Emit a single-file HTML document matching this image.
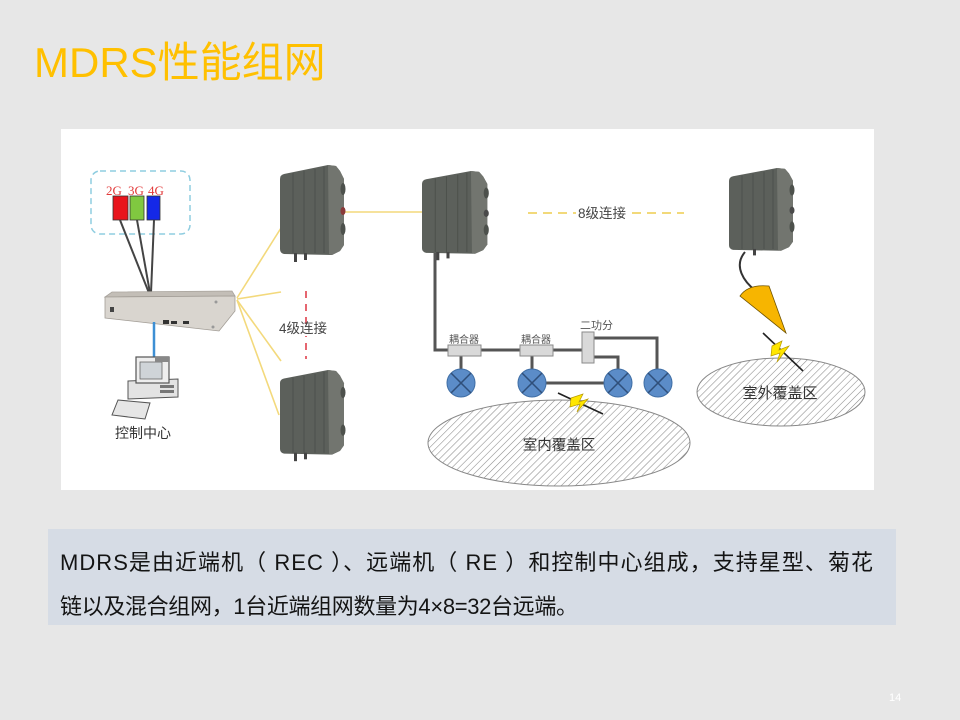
<!DOCTYPE html>
<html>
<head>
<meta charset="utf-8">
<style>
html,body{margin:0;padding:0;}
body{width:960px;height:720px;background:#e7e7e7;overflow:hidden;position:relative;}
svg{position:absolute;left:0;top:0;}
</style>
</head>
<body>
<svg width="960" height="720" viewBox="0 0 960 720" xmlns="http://www.w3.org/2000/svg">
<defs>
<pattern id="hatch" patternUnits="userSpaceOnUse" width="5" height="5" patternTransform="rotate(45)">
<rect x="0" y="0" width="5" height="5" fill="#ffffff"/>
<line x1="0" y1="0" x2="0" y2="5" stroke="#8a8a8a" stroke-width="1.1"/>
</pattern>
</defs>

<!-- Title -->
<text x="34" y="77" font-family="'Liberation Sans','Noto Sans CJK SC',sans-serif" font-size="42" fill="#ffc000">MDRS性能组网</text>

<!-- Diagram panel -->
<rect x="61" y="129" width="813" height="361" fill="#ffffff"/>

<!-- Dashed band box -->
<rect x="91" y="171" width="99" height="63" rx="9" fill="none" stroke="#8fcde0" stroke-width="1.5" stroke-dasharray="6,4"/>
<text x="106" y="195" font-family="'Liberation Serif',serif" font-size="13" fill="#e23a3a">2G</text>
<text x="128" y="195" font-family="'Liberation Serif',serif" font-size="13" fill="#e23a3a">3G</text>
<text x="148" y="195" font-family="'Liberation Serif',serif" font-size="13" fill="#e23a3a">4G</text>
<rect x="113" y="196" width="15" height="24" fill="#e8141c" stroke="#333" stroke-width="0.8"/>
<rect x="130" y="196" width="14" height="24" fill="#80c840" stroke="#333" stroke-width="0.8"/>
<rect x="147" y="196" width="13" height="24" fill="#1428e8" stroke="#333" stroke-width="0.8"/>
<g stroke="#444" stroke-width="2" fill="none">
<line x1="120" y1="220" x2="149" y2="293"/>
<line x1="137" y1="220" x2="150" y2="293"/>
<line x1="154" y1="220" x2="151" y2="293"/>
</g>

<!-- Yellow fan lines -->
<g stroke="#f3d97c" stroke-width="1.6" fill="none">
<line x1="237" y1="298" x2="281" y2="228"/>
<line x1="237" y1="299" x2="281" y2="292"/>
<line x1="237" y1="300" x2="281" y2="361"/>
<line x1="237" y1="300" x2="279" y2="415"/>
<line x1="343" y1="212" x2="423" y2="212"/>
</g>

<!-- Server (REC) -->
<polygon points="112,292 232,291 235,296 105,297" fill="#c3beb7" stroke="#a9a49d" stroke-width="0.8"/>
<polygon points="105,297 235,296 235,311 219,331 105,318" fill="#d9d5cf" stroke="#a29d96" stroke-width="0.8"/>
<rect x="110" y="307" width="4" height="5" fill="#444"/>
<rect x="163" y="320" width="6" height="4" fill="#333"/>
<rect x="171" y="321" width="6" height="3" fill="#333"/>
<rect x="183" y="321" width="6" height="3" fill="#333"/>
<circle cx="216" cy="302" r="1.5" fill="#999"/>
<circle cx="213" cy="327" r="1.5" fill="#999"/>
<line x1="154" y1="322" x2="154" y2="358" stroke="#3d8fd4" stroke-width="2.5"/>

<!-- Computer -->
<polygon points="128,381 178,379 178,397 128,399" fill="#e3e3e3" stroke="#555" stroke-width="1"/>
<rect x="136" y="357" width="33" height="26" fill="#eeeeee" stroke="#555" stroke-width="1.2"/>
<rect x="140" y="362" width="22" height="17" fill="#cfd4d8" stroke="#666" stroke-width="0.8"/>
<rect x="155" y="357" width="14" height="5" fill="#888"/>
<rect x="160" y="385" width="14" height="3" fill="#777"/>
<rect x="160" y="390" width="14" height="3" fill="#777"/>
<polygon points="118,400 150,403 145,419 112,415" fill="#e6e6e6" stroke="#555" stroke-width="1"/>
<text x="115" y="438" font-family="'Liberation Sans','Noto Sans CJK SC',sans-serif" font-size="14" fill="#333">控制中心</text>

<!-- 4级连接 -->
<line x1="306" y1="291" x2="306" y2="359" stroke="#e0404c" stroke-width="1.6" stroke-dasharray="7,6"/>
<rect x="279" y="320" width="52" height="16" fill="#ffffff"/>
<line x1="306" y1="320" x2="306" y2="324" stroke="#e0404c" stroke-width="1.6"/>
<text x="279" y="333" font-family="'Liberation Sans','Noto Sans CJK SC',sans-serif" font-size="13.5" fill="#444">4级连接</text>

<!-- RE devices -->
<g transform="translate(280,165)">
<path d="M0,14 Q0,10 4,9 L48,0 L56,1 L60,6 L64,14 L64,80 L60,86 L52,90 L4,89 Q0,88 0,84 Z" fill="#5c605b"/>
<path d="M48,0 L56,1 L60,6 L64,14 L64,80 L60,86 L52,90 L49,89 Z" fill="#72756f"/>
<g stroke="#4d514c" stroke-width="1"><line x1="13" y1="8" x2="13" y2="88"/><line x1="24" y1="6" x2="24" y2="88"/><line x1="35" y1="4" x2="35" y2="88"/><line x1="44" y1="2" x2="44" y2="88"/></g>
<ellipse cx="63" cy="24" rx="2.5" ry="6" fill="#4d514c"/><ellipse cx="63" cy="46" rx="2.5" ry="4" fill="#8a3a3a"/><ellipse cx="63" cy="64" rx="2.5" ry="6" fill="#4d514c"/>
<rect x="14" y="88" width="3" height="9" fill="#444"/><rect x="24" y="88" width="3" height="7" fill="#444"/>
</g>
<g transform="translate(280,370) scale(1,0.94)">
<path d="M0,14 Q0,10 4,9 L48,0 L56,1 L60,6 L64,14 L64,80 L60,86 L52,90 L4,89 Q0,88 0,84 Z" fill="#5c605b"/>
<path d="M48,0 L56,1 L60,6 L64,14 L64,80 L60,86 L52,90 L49,89 Z" fill="#72756f"/>
<g stroke="#4d514c" stroke-width="1"><line x1="13" y1="8" x2="13" y2="88"/><line x1="24" y1="6" x2="24" y2="88"/><line x1="35" y1="4" x2="35" y2="88"/><line x1="44" y1="2" x2="44" y2="88"/></g>
<ellipse cx="63" cy="24" rx="2.5" ry="6" fill="#4d514c"/><ellipse cx="63" cy="64" rx="2.5" ry="6" fill="#4d514c"/>
<rect x="14" y="88" width="3" height="9" fill="#444"/><rect x="24" y="88" width="3" height="7" fill="#444"/>
</g>
<g transform="translate(422,171) scale(1.02,0.92)">
<path d="M0,14 Q0,10 4,9 L48,0 L56,1 L60,6 L64,14 L64,80 L60,86 L52,90 L4,89 Q0,88 0,84 Z" fill="#5c605b"/>
<path d="M48,0 L56,1 L60,6 L64,14 L64,80 L60,86 L52,90 L49,89 Z" fill="#72756f"/>
<g stroke="#4d514c" stroke-width="1"><line x1="13" y1="8" x2="13" y2="88"/><line x1="24" y1="6" x2="24" y2="88"/><line x1="35" y1="4" x2="35" y2="88"/><line x1="44" y1="2" x2="44" y2="88"/></g>
<ellipse cx="63" cy="24" rx="2.5" ry="6" fill="#4d514c"/><ellipse cx="63" cy="46" rx="2.5" ry="4" fill="#4a4a4a"/><ellipse cx="63" cy="64" rx="2.5" ry="6" fill="#4d514c"/>
<rect x="14" y="88" width="3" height="9" fill="#444"/><rect x="24" y="88" width="3" height="7" fill="#444"/>
</g>
<g transform="translate(729,168) scale(1,0.92)">
<path d="M0,14 Q0,10 4,9 L48,0 L56,1 L60,6 L64,14 L64,80 L60,86 L52,90 L4,89 Q0,88 0,84 Z" fill="#5c605b"/>
<path d="M48,0 L56,1 L60,6 L64,14 L64,80 L60,86 L52,90 L49,89 Z" fill="#72756f"/>
<g stroke="#4d514c" stroke-width="1"><line x1="13" y1="8" x2="13" y2="88"/><line x1="24" y1="6" x2="24" y2="88"/><line x1="35" y1="4" x2="35" y2="88"/><line x1="44" y1="2" x2="44" y2="88"/></g>
<ellipse cx="63" cy="24" rx="2.5" ry="6" fill="#4d514c"/><ellipse cx="63" cy="46" rx="2.5" ry="4" fill="#4a4a4a"/><ellipse cx="63" cy="64" rx="2.5" ry="6" fill="#4d514c"/>
<rect x="24" y="88" width="3" height="7" fill="#444"/>
</g>

<!-- 8级连接 -->
<line x1="528" y1="213" x2="576" y2="213" stroke="#f0d468" stroke-width="1.8" stroke-dasharray="9,6"/>
<line x1="632" y1="213" x2="684" y2="213" stroke="#f0d468" stroke-width="1.8" stroke-dasharray="9,6"/>
<text x="578" y="218" font-family="'Liberation Sans','Noto Sans CJK SC',sans-serif" font-size="13.5" fill="#444">8级连接</text>

<!-- Indoor cabling -->
<g stroke="#555" stroke-width="3" fill="none">
<path d="M435,253 L435,350 L448,350"/>
<line x1="481" y1="350" x2="520" y2="350"/>
<line x1="553" y1="350" x2="582" y2="350"/>
<line x1="461" y1="356" x2="461" y2="370"/>
<line x1="532" y1="356" x2="532" y2="370"/>
<path d="M594,338 L657,338 L657,370"/>
<path d="M594,357 L618,357 L618,370"/>
<line x1="546" y1="383" x2="604" y2="383"/>
</g>
<rect x="448" y="345" width="33" height="11" fill="#d9d9d9" stroke="#8a8a8a" stroke-width="1"/>
<rect x="520" y="345" width="33" height="11" fill="#d9d9d9" stroke="#8a8a8a" stroke-width="1"/>
<rect x="582" y="332" width="12" height="31" fill="#d9d9d9" stroke="#8a8a8a" stroke-width="1"/>
<text x="449" y="343" font-family="'Liberation Sans','Noto Sans CJK SC',sans-serif" font-size="10" fill="#555">耦合器</text>
<text x="521" y="343" font-family="'Liberation Sans','Noto Sans CJK SC',sans-serif" font-size="10" fill="#555">耦合器</text>
<text x="580" y="329" font-family="'Liberation Sans','Noto Sans CJK SC',sans-serif" font-size="11" fill="#555">二功分</text>

<!-- Antennas -->
<g stroke="#3f6ea5" stroke-width="1" fill="#5b8cc8">
<circle cx="461" cy="383" r="14"/>
<circle cx="532" cy="383" r="14"/>
<circle cx="618" cy="383" r="14"/>
<circle cx="658" cy="383" r="14"/>
</g>
<g stroke="#2f4f7a" stroke-width="1.5">
<line x1="451" y1="373" x2="471" y2="393"/><line x1="471" y1="373" x2="451" y2="393"/>
<line x1="522" y1="373" x2="542" y2="393"/><line x1="542" y1="373" x2="522" y2="393"/>
<line x1="608" y1="373" x2="628" y2="393"/><line x1="628" y1="373" x2="608" y2="393"/>
<line x1="648" y1="373" x2="668" y2="393"/><line x1="668" y1="373" x2="648" y2="393"/>
</g>

<!-- Indoor coverage ellipse -->
<ellipse cx="559" cy="443" rx="131" ry="43" fill="url(#hatch)" stroke="#888" stroke-width="1"/>
<text x="559" y="450" text-anchor="middle" font-family="'Liberation Sans','Noto Sans CJK SC',sans-serif" font-size="14.5" fill="#333">室内覆盖区</text>
<line x1="558" y1="393" x2="603" y2="414" stroke="#222" stroke-width="1.6"/>
<polygon points="571,398 583,394 579,402 588,399 577,412 580,404 570,407" fill="#ffe600" stroke="#b89a00" stroke-width="0.7"/>

<!-- Outdoor -->
<path d="M745,252 C733,266 744,282 756,291" stroke="#333" stroke-width="2" fill="none"/>
<path d="M740,296 Q748,284 769,286 L786,333 Z" fill="#f7b500" stroke="#6e5200" stroke-width="0.8"/>
<ellipse cx="781" cy="392" rx="84" ry="34" fill="url(#hatch)" stroke="#888" stroke-width="1"/>
<text x="780" y="398" text-anchor="middle" font-family="'Liberation Sans','Noto Sans CJK SC',sans-serif" font-size="15" fill="#333">室外覆盖区</text>
<line x1="763" y1="333" x2="803" y2="371" stroke="#222" stroke-width="1.6"/>
<polygon points="772,346 782,341 779,350 789,346 777,362 780,353 771,356" fill="#ffe600" stroke="#b89a00" stroke-width="0.7"/>

<!-- Text box -->
<rect x="48" y="529" width="848" height="96" fill="#d6dce5"/>
<text x="60" y="570" textLength="813" lengthAdjust="spacing" font-family="'Liberation Sans','Noto Sans CJK SC',sans-serif" font-size="22" fill="#141414" xml:space="preserve">MDRS是由近端机（ REC ）、远端机（ RE ）和控制中心组成，支持星型、菊花</text>
<text x="60" y="614" textLength="518" lengthAdjust="spacing" font-family="'Liberation Sans','Noto Sans CJK SC',sans-serif" font-size="22" fill="#141414">链以及混合组网，1台近端组网数量为4×8=32台远端。</text>

<!-- Page number -->
<text x="889" y="701" font-family="'Liberation Sans',sans-serif" font-size="11" fill="#ffffff">14</text>
</svg>
</body>
</html>
